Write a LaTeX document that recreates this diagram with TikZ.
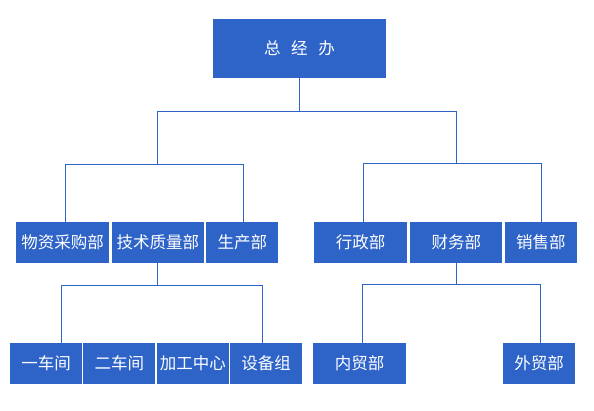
\documentclass[tikz,border=0pt]{standalone}
\usepackage{fontspec}
\newfontfamily\cjk{Noto Sans CJK SC}
\usepackage{tikz}
\usetikzlibrary{positioning, calc}
\definecolor{orgblue}{HTML}{2E63C7}

\begin{document}
\begin{tikzpicture}[x=1pt, y=1pt, font=\cjk\fontsize{16.5}{19}\selectfont,
    dept/.style={draw=none, fill=orgblue, text=white, inner sep=0pt, minimum height=41pt, align=center},
    wide/.style={dept, minimum width=93pt},
    narrow/.style={dept, minimum width=72pt},
    link/.style={draw=orgblue, line width=0.9pt}]
    \useasboundingbox (0,0) rectangle (594,411);

    % Top
    \node[dept, minimum width=173pt, minimum height=59pt] (gm) at (299.5,362.5) {总\hspace{0.65em}经\hspace{0.65em}办};

    % Second row, left group
    \node[wide] (wz) at (62.5,168.5) {物资采购部};
    \node[wide, minimum width=92pt, right=2.5pt of wz] (js) {技术质量部};
    \node[narrow, right=2pt of js] (sc) {生产部};

    % Second row, right group
    \node[wide] (xz) at (360.5,168.5) {行政部};
    \node[wide, minimum width=92pt, right=3pt of xz] (cw) {财务部};
    \node[narrow, right=2pt of cw] (xs) {销售部};

    % Third row, workshops
    \node[narrow] (yc) at (46,47.5) {一车间};
    \node[narrow, right=1pt of yc] (ec) {二车间};
    \node[narrow, right=1pt of ec] (jg) {加工中心};
    \node[narrow, right=1pt of jg] (sb) {设备组};

    % Third row, trade
    \node[wide] (nm) at (359.5,47.5) {内贸部};
    \node[narrow] (wm) at (539,47.5) {外贸部};

    % Lines
    \draw[link] (gm.south) -- ++(0,-33) coordinate (top);
    \draw[link] (js.north |- top) -- (cw.north |- top);
    \draw[link] (js.north |- top) -- ++(0,-53) coordinate (lbus);
    \draw[link] (cw.north |- top) -- ++(0,-52.5) coordinate (rbus);
    \draw[link] ([xshift=2.5pt]wz.north) |- (lbus) -| ([xshift=1pt]sc.north);
    \draw[link] ([xshift=2.5pt]xz.north) |- (rbus) -| ([xshift=1pt]xs.north);
    \draw[link] (js.south) -- ++(0,-22) coordinate (lsub);
    \draw[link] ([xshift=15pt]yc.north) |- (lsub) -| ([xshift=-3.5pt]sb.north);
    \draw[link] (cw.south) -- ++(0,-21.5) coordinate (rsub);
    \draw[link] ([xshift=2.5pt]nm.north) |- (rsub) -| ([xshift=1pt]wm.north);
\end{tikzpicture}
\end{document}
